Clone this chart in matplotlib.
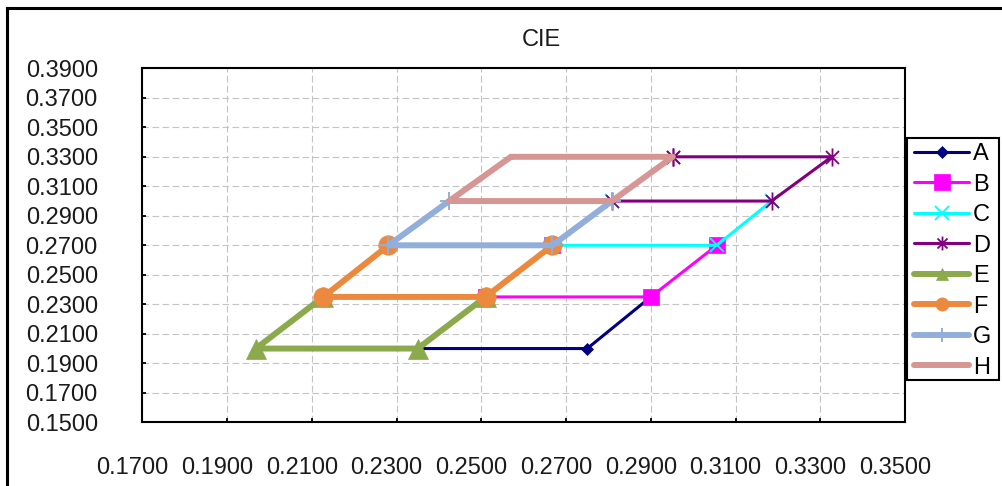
import matplotlib
matplotlib.use("Agg")
import matplotlib.pyplot as plt
import matplotlib.transforms as mtransforms
from matplotlib.lines import Line2D
from matplotlib.patches import Rectangle
from matplotlib.path import Path

# ---------------- data ----------------
series_names = ["A", "B", "C", "D", "E", "F", "G", "H"]

A_x = [0.251, 0.235, 0.275, 0.290]
A_y = [0.235, 0.200, 0.200, 0.235]
B_x = [0.2668, 0.251, 0.290, 0.3056]
B_y = [0.270, 0.235, 0.235, 0.270]
C_x = [0.2808, 0.2668, 0.3056, 0.3185]
C_y = [0.300, 0.270, 0.270, 0.300]
D_x = [0.2952, 0.2808, 0.3185, 0.3327, 0.2952]
D_y = [0.330, 0.300, 0.300, 0.330, 0.330]
E_x = [0.2127, 0.1968, 0.235, 0.251]
E_y = [0.235, 0.200, 0.200, 0.235]
F_x = [0.2281, 0.2127, 0.251, 0.2668]
F_y = [0.270, 0.235, 0.235, 0.270]
G_x = [0.2424, 0.2281, 0.2668, 0.2808]
G_y = [0.300, 0.270, 0.270, 0.300]
H_x = [0.257, 0.2424, 0.2808, 0.2952, 0.257]
H_y = [0.330, 0.300, 0.300, 0.330, 0.330]

x_ticks = [0.17, 0.19, 0.21, 0.23, 0.25, 0.27, 0.29, 0.31, 0.33, 0.35]
y_ticks = [0.15, 0.17, 0.19, 0.21, 0.23, 0.25, 0.27, 0.29, 0.31, 0.33, 0.35, 0.37, 0.39]
title = "CIE"

# ---------------- style ----------------
FONT = "Liberation Sans"
FS = 17
plt.rcParams["font.family"] = [FONT, "DejaVu Sans"]

asterisk = Path([(0, -1), (0, 1), (-0.72, -0.72), (0.72, 0.72), (-0.72, 0.72), (0.72, -0.72)],
                [Path.MOVETO, Path.LINETO, Path.MOVETO, Path.LINETO, Path.MOVETO, Path.LINETO])

styles = {
    "A": dict(color="#000080", lw=2.2, marker="D", ms=6.5, mew=0.5),
    "B": dict(color="#FF00FF", lw=2.2, marker="s", ms=11, mew=0.5),
    "C": dict(color="#00FFFF", lw=2.2, marker="x", ms=10, mew=1.3),
    "D": dict(color="#800080", lw=2.2, marker=asterisk, ms=13, mew=1.3),
    "E": dict(color="#8AAA4B", lw=4.3, marker="^", ms=14, mew=0.5),
    "F": dict(color="#EB8A3E", lw=4.3, marker="o", ms=14, mew=0.5),
    "G": dict(color="#93AEDA", lw=4.3, marker="+", ms=13, mew=1.4),
    "H": dict(color="#D69694", lw=4.3, marker=None, ms=0, mew=0),
}
legend_ms = {"A": 6.5, "B": 11, "C": 9.5, "D": 10, "E": 9, "F": 9.5, "G": 10, "H": 0}

data = {"A": (A_x, A_y), "B": (B_x, B_y), "C": (C_x, C_y), "D": (D_x, D_y),
        "E": (E_x, E_y), "F": (F_x, F_y), "G": (G_x, G_y), "H": (H_x, H_y)}

W, Hh = 1003, 486
fig = plt.figure(figsize=(W / 100, Hh / 100), dpi=100)
fig.patch.set_facecolor("white")

L, R, T, Bt = 142.3, 905.0, 68.3, 422.3
ax = fig.add_axes([L / W, 1 - Bt / Hh, (R - L) / W, (Bt - T) / Hh])

for name in series_names:
    st = styles[name]
    xs, ys = data[name]
    ax.plot(xs, ys, color=st["color"], lw=st["lw"], marker=st["marker"], ms=st["ms"],
            mew=st["mew"], mec=st["color"], mfc=st["color"],
            solid_joinstyle="round", solid_capstyle="round", zorder=3, clip_on=False)

ax.set_xlim(0.17, 0.35)
ax.set_ylim(0.15, 0.39)
ax.set_xticks(x_ticks)
ax.set_yticks(y_ticks)
ax.set_xticklabels([f"{v:.4f}" for v in x_ticks])
ax.set_yticklabels([f"{v:.4f}" for v in y_ticks])

ax.grid(True, color="#C4C4C4", lw=0.8, linestyle=(0, (6, 3)), zorder=0)
ax.set_axisbelow(True)
for sp in ax.spines.values():
    sp.set_linewidth(1.5)
    sp.set_color("black")
ax.tick_params(axis="both", direction="in", length=3, width=1.3, color="black",
               labelsize=FS, labelcolor="#1a1a1a")
ax.tick_params(axis="x", pad=25)
ax.tick_params(axis="y", pad=32)

offset = mtransforms.ScaledTranslation(-10 / 100, 0, fig.dpi_scale_trans)
for lbl in ax.get_xticklabels():
    lbl.set_transform(lbl.get_transform() + offset)

fig.text(541 / W, 1 - 45.7 / Hh, title, ha="center", va="baseline", fontsize=FS, color="#1a1a1a")

# legend
handles = []
for name in series_names:
    st = styles[name]
    handles.append(Line2D([0], [0], color=st["color"], lw=st["lw"], marker=st["marker"],
                          ms=legend_ms[name], mew=st["mew"], mec=st["color"], mfc=st["color"],
                          solid_capstyle="round"))
leg = fig.legend(handles, series_names, loc="upper left",
                 bbox_to_anchor=(914 / W, 1 - 143.0 / Hh), bbox_transform=fig.transFigure,
                 frameon=False, borderpad=0, borderaxespad=0, handlelength=2.33,
                 handletextpad=0.17, labelspacing=0.36, fontsize=FS, numpoints=1)
fig.add_artist(Rectangle((906.7 / W, 1 - 380 / Hh), 92.3 / W, 242 / Hh,
                         transform=fig.transFigure, fill=False, ec="black", lw=1.5))

# outer border
fig.add_artist(Line2D([7 / W, 7 / W], [0, 1 - 8.5 / Hh], transform=fig.transFigure,
                      color="black", lw=2.2))
fig.add_artist(Line2D([7 / W, 1], [1 - 8.5 / Hh, 1 - 8.5 / Hh], transform=fig.transFigure,
                      color="black", lw=2.2))

fig.savefig("out.png", dpi=100, facecolor="white")
